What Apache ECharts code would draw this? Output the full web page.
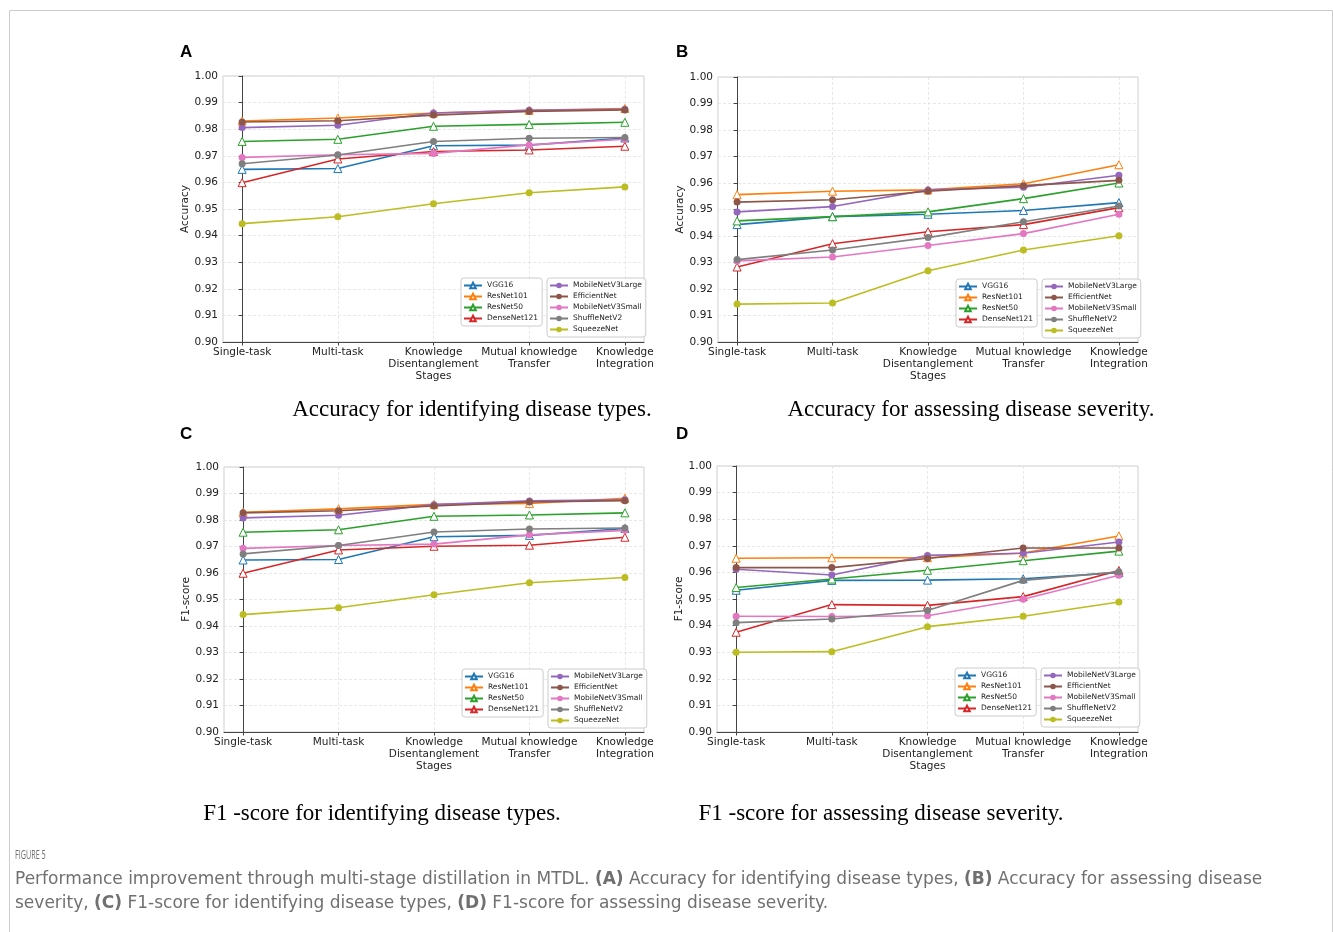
<!DOCTYPE html>
<html><head><meta charset="utf-8">
<script src="https://cdn.jsdelivr.net/npm/echarts@6/dist/echarts.min.js"></script>
<style>html,body{margin:0;padding:0;background:#fff}#c{width:1333px;height:932px}</style>
</head><body><div id="c"></div>
<script>
// ---------- data ----------
const stages = ['Single-task', 'Multi-task', 'Knowledge\nDisentanglement\nStages', 'Mutual knowledge\nTransfer', 'Knowledge\nIntegration'];
const models = ['VGG16', 'ResNet101', 'ResNet50', 'DenseNet121', 'MobileNetV3Large', 'EfficientNet', 'MobileNetV3Small', 'ShuffleNetV2', 'SqueezeNet'];
const triangleModels = ['VGG16', 'ResNet101', 'ResNet50', 'DenseNet121'];
const modelColors = ['#1f77b4', '#ff7f0e', '#2ca02c', '#d62728', '#9467bd', '#8c564b', '#e377c2', '#7f7f7f', '#bcbd22'];

// (A) Accuracy for identifying disease types — rows follow `models`
const accTypes = [
  [0.9649, 0.9652, 0.9738, 0.9740, 0.9767],
  [0.9831, 0.9842, 0.9861, 0.9871, 0.9878],
  [0.9754, 0.9762, 0.9811, 0.9818, 0.9826],
  [0.9599, 0.9688, 0.9716, 0.9722, 0.9736],
  [0.9806, 0.9815, 0.9861, 0.9871, 0.9875],
  [0.9827, 0.9832, 0.9853, 0.9867, 0.9872],
  [0.9694, 0.9704, 0.9709, 0.9741, 0.9762],
  [0.9670, 0.9703, 0.9754, 0.9766, 0.9769],
  [0.9445, 0.9471, 0.9520, 0.9561, 0.9583]
];
// (B) Accuracy for assessing disease severity
const accSeverity = [
  [0.9443, 0.9473, 0.9482, 0.9496, 0.9526],
  [0.9556, 0.9569, 0.9574, 0.9597, 0.9669],
  [0.9457, 0.9473, 0.9491, 0.9541, 0.9600],
  [0.9283, 0.9371, 0.9416, 0.9443, 0.9507],
  [0.9491, 0.9511, 0.9574, 0.9584, 0.9629],
  [0.9528, 0.9537, 0.9569, 0.9590, 0.9610],
  [0.9306, 0.9321, 0.9364, 0.9409, 0.9482],
  [0.9311, 0.9347, 0.9394, 0.9454, 0.9513],
  [0.9143, 0.9147, 0.9269, 0.9347, 0.9401]
];
// (C) F1-score for identifying disease types
const f1Types = [
  [0.9649, 0.9651, 0.9737, 0.9742, 0.9768],
  [0.9829, 0.9842, 0.9859, 0.9862, 0.9882],
  [0.9754, 0.9763, 0.9814, 0.9819, 0.9827],
  [0.9599, 0.9687, 0.9701, 0.9705, 0.9735],
  [0.9808, 0.9818, 0.9858, 0.9872, 0.9876],
  [0.9827, 0.9835, 0.9853, 0.9868, 0.9873],
  [0.9693, 0.9704, 0.9709, 0.9744, 0.9761],
  [0.9672, 0.9704, 0.9755, 0.9766, 0.9770],
  [0.9443, 0.9469, 0.9518, 0.9563, 0.9583]
];
// (D) F1-score for assessing disease severity
const f1Severity = [
  [0.9533, 0.9570, 0.9571, 0.9576, 0.9599],
  [0.9653, 0.9655, 0.9655, 0.9673, 0.9737],
  [0.9543, 0.9575, 0.9608, 0.9644, 0.9680],
  [0.9375, 0.9479, 0.9476, 0.9509, 0.9607],
  [0.9612, 0.9590, 0.9664, 0.9672, 0.9714],
  [0.9618, 0.9618, 0.9652, 0.9692, 0.9692],
  [0.9435, 0.9434, 0.9437, 0.9499, 0.9589],
  [0.9411, 0.9425, 0.9457, 0.9570, 0.9602],
  [0.9300, 0.9302, 0.9396, 0.9435, 0.9489]
];
const yMin = 0.90, yMax = 1.00, yStep = 0.01;

const panelLetters = ['A', 'B', 'C', 'D'];
const panelYNames = ['Accuracy', 'Accuracy', 'F1-score', 'F1-score'];
const panelData = [accTypes, accSeverity, f1Types, f1Severity];
const subCaptions = ['Accuracy for identifying disease types.', 'Accuracy for assessing disease severity.',
  'F1 -score for identifying disease types.', 'F1 -score for assessing disease severity.'];

// ---------- layout ----------
const grids = [
  {left: 223, top: 76, width: 421, height: 266},
  {left: 718, top: 77, width: 420, height: 265},
  {left: 224, top: 467, width: 420, height: 265},
  {left: 717, top: 466, width: 421, height: 266}
];
const letterPos = [[180, 52], [676, 52], [180, 434], [676, 434]];
const subCapPos = [[472, 410], [971, 410], [382, 814], [881, 814]];

const tickFont = 'DejaVu Sans';
const xIdx = stages.map((s, i) => i);

const option = {
  animation: false,
  backgroundColor: '#fff',
  grid: grids.map(g => Object.assign({show: true, borderColor: '#cfcfcf', borderWidth: 1, backgroundColor: 'transparent'}, g)),
  xAxis: grids.map((g, p) => ({
    type: 'value', gridIndex: p, min: -0.2, max: 4.2,
    axisLine: {lineStyle: {color: '#444', width: 1}},
    axisTick: {show: true, length: 3.5, customValues: xIdx, lineStyle: {color: '#444'}},
    axisLabel: {customValues: xIdx, formatter: v => stages[Math.round(v)], fontFamily: tickFont, fontSize: 10.5,
      lineHeight: 12, color: '#222', margin: 4},
    splitLine: {show: true, lineStyle: {color: '#e2e2e2', type: [3, 2], width: 0.8}}
  })),
  yAxis: grids.map((g, p) => ({
    type: 'value', gridIndex: p, min: yMin, max: yMax, interval: yStep,
    name: panelYNames[p], nameLocation: 'middle', nameGap: 32,
    nameTextStyle: {fontFamily: tickFont, fontSize: 10.5, color: '#222'},
    axisLine: {show: true, lineStyle: {color: '#444', width: 1}},
    axisTick: {show: true, length: 3.5, lineStyle: {color: '#444'}},
    axisLabel: {formatter: v => v.toFixed(2), fontFamily: tickFont, fontSize: 10.5, color: '#222', margin: 5},
    splitLine: {show: true, lineStyle: {color: '#e2e2e2', type: [3, 2], width: 0.8}}
  })),
  legend: [],
  series: [],
  graphic: []
};

grids.forEach((g, p) => {
  models.forEach((m, k) => {
    const c = modelColors[k];
    const tri = triangleModels.includes(m);
    option.series.push({
      type: 'line', name: m, xAxisIndex: p, yAxisIndex: p,
      data: panelData[p][k].map((v, i) => [xIdx[i], v]),
      symbol: tri ? 'triangle' : 'circle',
      symbolSize: tri ? 8 : 7,
      showSymbol: true,
      color: c,
      lineStyle: {color: c, width: 1.6},
      itemStyle: tri ? {color: '#fff', borderColor: c, borderWidth: 1} : {color: c, borderColor: c, borderWidth: 0},
      emphasis: {disabled: true},
      z: 2 + k * 0.01
    });
  });
  const legendCommon = {
    orient: 'vertical', itemWidth: 18, itemHeight: 7, itemGap: 2,
    padding: [3, 4, 3, 2], borderColor: '#cccccc', borderWidth: 1, borderRadius: 3,
    backgroundColor: 'rgba(255,255,255,0.85)',
    textStyle: {fontFamily: tickFont, fontSize: 7.5, lineHeight: 9, color: '#222'},
    selectedMode: false
  };
  option.legend.push(Object.assign({}, legendCommon, {left: g.left + 238, top: g.top + 202, data: models.slice(0, 4)}));
  option.legend.push(Object.assign({}, legendCommon, {left: g.left + 324, top: g.top + 202, data: models.slice(4)}));

  option.graphic.push({
    type: 'text', left: letterPos[p][0], top: letterPos[p][1] - 8,
    style: {text: panelLetters[p], font: 'bold 17px "Liberation Sans", Arial, sans-serif', fill: '#000'}
  });
  option.graphic.push({
    type: 'text', x: subCapPos[p][0], y: subCapPos[p][1],
    style: {text: subCaptions[p], font: '23px "Liberation Serif", "Times New Roman", serif', fill: '#000',
      textAlign: 'center', textVerticalAlign: 'middle'}
  });
});

// outer frame
option.graphic.push({
  type: 'rect', shape: {x: 9.5, y: 10.5, width: 1323, height: 960},
  style: {fill: 'none', stroke: '#cccccc', lineWidth: 1}, silent: true, z: -10
});
// figure caption
option.graphic.push({
  type: 'text', x: 15, y: 856, scaleX: 0.6,
  style: {text: 'FIGURE 5', font: '12px "Open Sans", sans-serif', fill: '#6f6f6f', textVerticalAlign: 'middle'}
});
option.graphic.push({
  type: 'text', x: 15, y: 868,
  style: {
    text: 'Performance improvement through multi-stage distillation in MTDL. {b|(A)} Accuracy for identifying disease types, {b|(B)} Accuracy for assessing disease\nseverity, {b|(C)} F1-score for identifying disease types, {b|(D)} F1-score for assessing disease severity.',
    font: '17px "DejaVu Sans", sans-serif', fill: '#707070', lineHeight: 24,
    rich: {b: {fontWeight: 'bold', fontSize: 17, fontFamily: 'DejaVu Sans', fill: '#707070', lineHeight: 24}}
  }
});

const chart = echarts.init(document.getElementById('c'), null, {renderer: 'canvas'});
chart.setOption(option);
</script>
</body></html>
